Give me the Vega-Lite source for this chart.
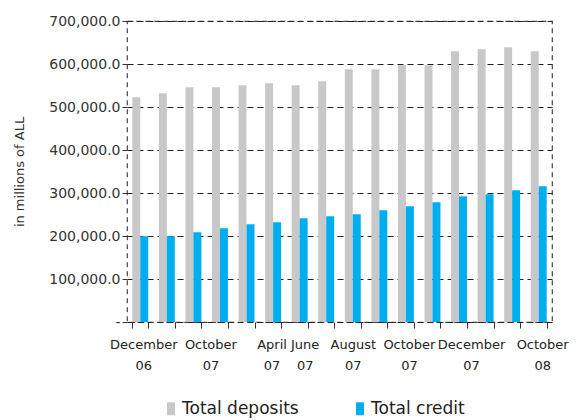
{
  "$schema": "https://vega.github.io/schema/vega-lite/v6.json",
  "width": 425,
  "height": 301,
  "autosize": {"type": "none"},
  "padding": {"left": 127, "top": 21, "right": 31, "bottom": 98},
  "config": {
    "font": "DejaVu Sans",
    "view": {"stroke": "#444444", "strokeDash": [5, 4], "strokeWidth": 1.2},
    "axis": {"labelColor": "#333333", "titleColor": "#333333", "domain": false}
  },
  "data": {
    "values": [
      {"period": "1 December 06", "series": "Total deposits", "value": 522600},
      {"period": "1 December 06", "series": "Total credit", "value": 199300},
      {"period": "2 December 06", "series": "Total deposits", "value": 531900},
      {"period": "2 December 06", "series": "Total credit", "value": 199300},
      {"period": "3 October 07", "series": "Total deposits", "value": 545800},
      {"period": "3 October 07", "series": "Total credit", "value": 208600},
      {"period": "4 October 07", "series": "Total deposits", "value": 545800},
      {"period": "4 October 07", "series": "Total credit", "value": 217900},
      {"period": "5 April 07", "series": "Total deposits", "value": 550500},
      {"period": "5 April 07", "series": "Total credit", "value": 227200},
      {"period": "6 April 07", "series": "Total deposits", "value": 555100},
      {"period": "6 April 07", "series": "Total credit", "value": 231900},
      {"period": "7 June 07", "series": "Total deposits", "value": 550500},
      {"period": "7 June 07", "series": "Total credit", "value": 241200},
      {"period": "8 June 07", "series": "Total deposits", "value": 559800},
      {"period": "8 June 07", "series": "Total credit", "value": 245800},
      {"period": "9 August 07", "series": "Total deposits", "value": 587700},
      {"period": "9 August 07", "series": "Total credit", "value": 250500},
      {"period": "10 August 07", "series": "Total deposits", "value": 587700},
      {"period": "10 August 07", "series": "Total credit", "value": 259800},
      {"period": "11 October 07", "series": "Total deposits", "value": 597000},
      {"period": "11 October 07", "series": "Total credit", "value": 269100},
      {"period": "12 October 07", "series": "Total deposits", "value": 597000},
      {"period": "12 October 07", "series": "Total credit", "value": 278400},
      {"period": "13 December 07", "series": "Total deposits", "value": 629500},
      {"period": "13 December 07", "series": "Total credit", "value": 292300},
      {"period": "14 December 07", "series": "Total deposits", "value": 634200},
      {"period": "14 December 07", "series": "Total credit", "value": 297000},
      {"period": "15 October 08", "series": "Total deposits", "value": 638800},
      {"period": "15 October 08", "series": "Total credit", "value": 306300},
      {"period": "16 October 08", "series": "Total deposits", "value": 629500},
      {"period": "16 October 08", "series": "Total credit", "value": 315600}
    ]
  },
  "mark": {"type": "bar"},
  "encoding": {
    "x": {
      "field": "period",
      "type": "nominal",
      "sort": null,
      "scale": {"paddingInner": 0.4, "paddingOuter": 0.2},
      "axis": {
        "title": null,
        "labelAngle": 0,
        "labelFontSize": 13,
        "labelColor": "#222222",
        "labelLineHeight": 21,
        "labelOffset": {
          "condition": [
            {"test": "datum.value == '1 December 06'", "value": 3},
            {"test": "datum.value == '3 October 07'", "value": 17},
            {"test": "datum.value == '5 April 07'", "value": 25},
            {"test": "datum.value == '7 June 07'", "value": 5},
            {"test": "datum.value == '9 August 07'", "value": 0},
            {"test": "datum.value == '11 October 07'", "value": 3},
            {"test": "datum.value == '13 December 07'", "value": 12},
            {"test": "datum.value == '15 October 08'", "value": 30}
          ],
          "value": 13.3
        },
        "labelPadding": 10,
        "tickBand": "extent",
        "tickSize": 6,
        "tickColor": "#333333",
        "labelExpr": "parseInt(slice(datum.label, 0, indexof(datum.label, ' '))) % 2 == 1 ? split(slice(datum.label, indexof(datum.label, ' ') + 1), ' ') : ''"
      }
    },
    "xOffset": {"field": "series", "sort": ["Total deposits", "Total credit"]},
    "y": {
      "field": "value",
      "type": "quantitative",
      "scale": {"domain": [0, 700000]},
      "axis": {
        "title": "in millions of ALL",
        "titleFontSize": 13,
        "titleFontWeight": "normal",
        "titlePadding": 22,
        "labelFontSize": 14,
        "tickCount": 7,
        "tickSize": 5,
        "tickColor": "#333333",
        "labelExpr": "datum.value == 0 ? '-\u00a0\u00a0\u00a0\u00a0\u00a0\u00a0' : format(datum.value, ',.1f')",
        "grid": true,
        "gridColor": "#222222",
        "gridDash": [6, 4],
        "gridWidth": 1.2
      }
    },
    "color": {
      "field": "series",
      "type": "nominal",
      "sort": ["Total deposits", "Total credit"],
      "scale": {"domain": ["Total deposits", "Total credit"], "range": ["#C8C8CA", "#00AEEF"]},
      "legend": {
        "title": null,
        "orient": "none",
        "direction": "horizontal",
        "legendX": 35.5,
        "legendY": 379,
        "padding": 0,
        "labelFontSize": 17,
        "labelColor": "#222222",
        "labelOffset": 2.5,
        "columnPadding": 52,
        "symbolType": "M-0.615,-1H0.615V1H-0.615Z",
        "symbolSize": 169,
        "symbolStrokeWidth": 0,
        "symbolOpacity": 1
      }
    }
  }
}
